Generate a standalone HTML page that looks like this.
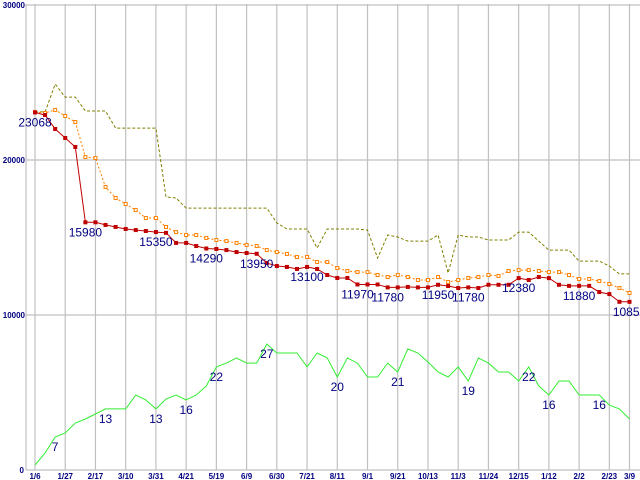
<!DOCTYPE html>
<html><head><meta charset="utf-8"><style>
html,body{margin:0;padding:0;background:#fff;}
svg{display:block;font-family:"Liberation Sans",sans-serif;}
</style></head><body>
<svg id="chart" width="640" height="480" xmlns="http://www.w3.org/2000/svg"></svg>
<script>
const categories = ["1/6","","","1/27","","","2/17","","","3/10","","","3/31","","","4/21","","","5/19","","","6/9","","","6/30","","","7/21","","","8/11","","","9/1","","","9/21","","","10/13","","","11/3","","","11/24","","","12/15","","","1/12","","","2/2","","","2/23","","3/9"];
const redValues = [23068,22900,22000,21420,20840,15980,15980,15810,15680,15550,15480,15420,15350,15300,14650,14650,14450,14290,14260,14190,14060,14000,13950,13350,13160,13100,12970,13100,12970,12580,12390,12390,11970,11970,11970,11780,11780,11810,11780,11780,11950,11870,11740,11780,11740,11950,11950,11950,12380,12260,12450,12380,11950,11880,11880,11880,11480,11350,10850,10850];
const orangeValues = [23100,23030,23230,22840,22450,20190,20130,18260,17550,17160,16770,16260,16260,15680,15350,15160,15160,14970,14840,14770,14650,14520,14450,14190,14060,13940,13740,13740,13420,13420,13030,12840,12770,12770,12580,12450,12580,12450,12260,12260,12450,12130,12260,12390,12450,12580,12520,12840,12900,12900,12840,12770,12770,12580,12320,12320,12190,12000,11740,11420];
const oliveValues = [23100,23100,24900,24060,24060,23160,23160,23160,22060,22060,22060,22060,22060,17610,17550,16900,16900,16900,16900,16900,16900,16900,16900,16900,15940,15550,15550,15550,14320,15550,15550,15550,15550,15480,13680,15160,15030,14770,14770,14770,15160,12710,15160,15030,15030,14840,14840,14840,15350,15350,14770,14190,14190,14190,13480,13480,13480,13160,12650,12650];
const greenValues = [320,1100,2130,2390,3030,3290,3610,3940,3940,3940,4840,4520,3940,4580,4840,4520,4840,5420,6650,6900,7230,6900,6900,8130,7550,7550,7550,6650,7550,7230,6000,7230,6900,6000,6000,6900,6320,7810,7550,6970,6320,6000,6650,5740,7230,6900,6320,6320,5740,6650,5420,4840,5740,5740,4840,4840,4840,4190,3940,3290];
const redLabelIdx = [0,5,12,17,22,27,32,35,40,43,48,54,59];
const greenLabelIdx = [2,7,12,15,18,23,30,36,43,49,51,56];
const greenLabels = ["7","13","13","16","22","27","20","21","19","22","16","16"];
const yTicks = [0,10000,20000,30000];

const svg = document.getElementById('chart');
const NS = 'http://www.w3.org/2000/svg';
const X0 = 35, X1 = 629.5, Y0 = 470, Y1 = 5, YMAX = 30000;
function xs(i){ return X0 + i*(X1-X0)/(categories.length-1); }
function ys(v){ return Y0 - v*(Y0-Y1)/YMAX; }
function mk(tag, attrs){ const e=document.createElementNS(NS,tag); for(const k in attrs) e.setAttribute(k,attrs[k]); svg.appendChild(e); return e; }

// grid
for (const t of yTicks){
  const g = mk('line',{x1:26,x2:640,y1:ys(t),y2:ys(t),stroke:'#c0c0c0','stroke-width':1.2});
  
  
  const tl = mk('text',{x:t===0?24:25,y:ys(t)+3,'text-anchor':'end','font-size':8,'font-weight':'bold',fill:'#000080'});
  tl.textContent = t;
  
  
}
const ax = mk('line',{x1:26,x2:26,y1:4,y2:470,stroke:'#c0c0c0','stroke-width':1.2});


categories.forEach((c,i)=>{
  if(!c) return;
  const l = mk('line',{x1:xs(i),x2:xs(i),y1:4,y2:470,stroke:'#c0c0c0','stroke-width':1.2});
  
  
  const t = mk('text',{x:xs(i),y:479,'text-anchor':'middle','font-size':8,'font-weight':'bold',fill:'#000080'});
  t.textContent = c;
  
  
});

function pts(arr){ return arr.map((v,i)=>xs(i).toFixed(1)+','+ys(v).toFixed(1)).join(' '); }

const ol = mk('polyline',{points:pts(oliveValues),fill:'none',stroke:'#808000','stroke-width':1,'stroke-dasharray':'3,2'});



const gl = mk('polyline',{points:pts(greenValues),fill:'none',stroke:'#33ee33','stroke-width':1});



const orl = mk('polyline',{points:pts(orangeValues),fill:'none',stroke:'#ff8000','stroke-width':1,'stroke-dasharray':'2,2'});


orangeValues.forEach((v,i)=>{
  const m = mk('rect',{x:xs(i)-1.5,y:ys(v)-1.5,width:3,height:3,fill:'#fff',stroke:'#ff8000','stroke-width':1});
  
  
});

const rl = mk('polyline',{points:pts(redValues),fill:'none',stroke:'#c00000','stroke-width':1});


redValues.forEach((v,i)=>{
  const m = mk('rect',{x:xs(i)-2,y:ys(v)-2,width:4,height:4,fill:'#c00000'});
  
  
});

redLabelIdx.forEach(i=>{
  const t = mk('text',{x:xs(i),y:ys(redValues[i])+14,'text-anchor':'middle','font-size':12,fill:'#000080'});
  t.textContent = redValues[i];
  
  
});
greenLabelIdx.forEach((i,k)=>{
  const t = mk('text',{x:xs(i),y:ys(greenValues[i])+14,'text-anchor':'middle','font-size':12,fill:'#000080'});
  t.textContent = greenLabels[k];
  
  
});
</script>
</body></html>
